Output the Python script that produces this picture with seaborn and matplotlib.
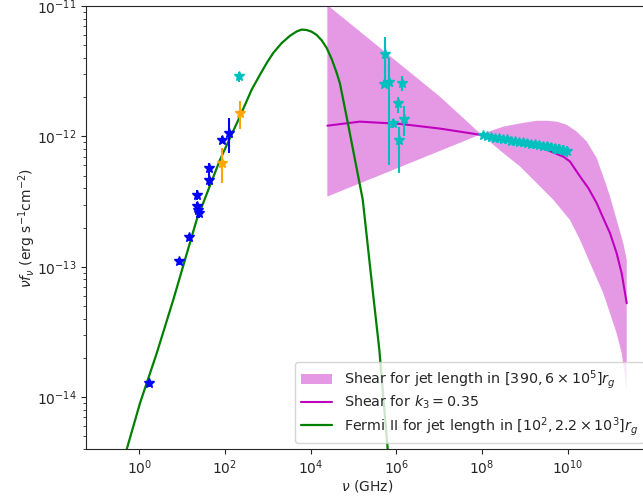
import numpy as np
import pandas as pd
import seaborn as sns
import matplotlib
matplotlib.use("Agg")
import matplotlib.pyplot as plt
import matplotlib.ticker as mticker

# --- Observed points (GHz, erg s^-1 cm^-2) ---
blue_x = [1.71, 8.4, 14.7, 21.8, 22.0, 23.8, 24.5, 43.0, 43.0, 84.0, 126.0]
blue_y = [1.28e-14, 1.10e-13, 1.69e-13, 3.56e-13, 2.94e-13, 2.74e-13, 2.58e-13,
          5.71e-13, 4.65e-13, 9.44e-13, 1.07e-12]
blue_lo = [0.08e-14, 0.06e-13, 0.1e-13, 0.3e-13, 0.2e-13, 0.2e-13, 0.2e-13,
           0.6e-13, 0.5e-13, 0.6e-13, 3.25e-13]
blue_hi = [0.08e-14, 0.06e-13, 0.1e-13, 0.3e-13, 0.2e-13, 0.2e-13, 0.2e-13,
           0.6e-13, 0.5e-13, 0.6e-13, 3.1e-13]

orange_x = [85.0, 224.0]
orange_y = [6.3e-13, 1.51e-12]
orange_lo = [1.92e-13, 0.37e-12]
orange_hi = [1.85e-13, 0.35e-12]

mm_x = [216.0]
mm_y = [2.89e-12]
mm_err = [0.25e-12]

ir_x = [5.4e5, 5.0e5, 6.6e5, 1.33e6, 1.11e6, 1.53e6, 1.17e6, 8.5e5]
ir_y = [4.3e-12, 2.55e-12, 2.6e-12, 2.57e-12, 1.82e-12, 1.36e-12, 9.4e-13, 1.26e-12]
ir_lo = [1.6e-12, 0.15e-12, 2.0e-12, 0.35e-12, 0.3e-12, 0.36e-12, 4.2e-13, 0.1e-12]
ir_hi = [1.5e-12, 0.15e-12, 1.4e-12, 0.35e-12, 0.2e-12, 0.34e-12, 2.5e-13, 0.1e-12]

fermi_x = [1.07e8, 1.32e8, 1.62e8, 2.04e8, 2.51e8, 3.09e8, 3.89e8, 4.79e8, 5.89e8,
           7.24e8, 9.12e8, 1.12e9, 1.38e9, 1.70e9, 2.14e9, 2.63e9, 3.24e9, 4.07e9,
           5.01e9, 6.17e9, 7.59e9, 9.33e9]
fermi_y = [1.02e-12, 1.01e-12, 0.99e-12, 0.98e-12, 0.97e-12, 0.96e-12, 0.95e-12,
           0.93e-12, 0.93e-12, 0.91e-12, 0.90e-12, 0.89e-12, 0.88e-12, 0.87e-12,
           0.86e-12, 0.85e-12, 0.84e-12, 0.83e-12, 0.81e-12, 0.80e-12, 0.79e-12,
           0.77e-12]
fermi_err = [0.05e-12, 0.05e-12, 0.05e-12, 0.05e-12, 0.05e-12, 0.05e-12, 0.05e-12,
             0.05e-12, 0.05e-12, 0.05e-12, 0.05e-12, 0.05e-12, 0.05e-12, 0.05e-12,
             0.06e-12, 0.06e-12, 0.06e-12, 0.06e-12, 0.07e-12, 0.07e-12, 0.07e-12,
             0.08e-12]

# --- Model curves ---
fermi2_x = [0.40, 0.50, 1.04, 2.55, 6.2, 21.8, 76.4, 224.0, 420.0, 656.0, 940.0,
            1340.0, 2100.0, 3290.0, 4710.0, 6170.0, 8070.0, 1.05e4, 1.38e4, 1.81e4,
            2.36e4, 3.09e4, 4.05e4, 4.83e4, 7.5e4, 1.64e5, 2.55e5, 4.0e5, 6.27e5, 7.2e5]
fermi2_y = [3.0e-15, 3.9e-15, 9.0e-15, 2.17e-14, 5.57e-14, 2.29e-13, 6.62e-13,
            1.43e-12, 2.29e-12, 2.98e-12, 3.66e-12, 4.38e-12, 5.21e-12, 5.93e-12,
            6.40e-12, 6.61e-12, 6.56e-12, 6.37e-12, 6.01e-12, 5.46e-12, 4.78e-12,
            3.93e-12, 3.07e-12, 2.54e-12, 1.23e-12, 3.27e-13, 8.65e-14, 2.3e-14,
            3.98e-15, 2.2e-15]

shear_x = [2.45e4, 1.4e5, 1.2e6, 1.04e7, 5.2e7, 7.7e8, 3.22e9, 7.9e9, 1.12e10,
           1.93e10, 3.01e10, 4.72e10, 6.73e10, 9.66e10, 1.38e11, 1.81e11, 2.37e11]
shear_y = [1.21e-12, 1.30e-12, 1.25e-12, 1.15e-12, 1.06e-12, 9.2e-13, 7.9e-13,
           7.0e-13, 6.43e-13, 4.93e-13, 4.02e-13, 3.08e-13, 2.36e-13, 1.81e-13,
           1.27e-13, 8.9e-14, 5.25e-14]

band_up_x = [2.45e4, 1.04e7, 9.4e7, 1.82e8, 3.13e8, 7.66e8, 1.88e9, 3.22e9, 5.51e9,
             9.42e9, 1.61e10, 2.76e10, 4.72e10, 6.73e10, 9.66e10, 1.38e11, 1.97e11,
             2.37e11]
band_up_y = [1.02e-11, 2.02e-12, 1.04e-12, 1.12e-12, 1.19e-12, 1.26e-12, 1.32e-12,
             1.32e-12, 1.30e-12, 1.23e-12, 1.09e-12, 9.16e-13, 6.83e-13, 4.93e-13,
             3.47e-13, 2.29e-13, 1.52e-13, 1.13e-13]
band_lo_x = [2.45e4, 1.04e7, 9.4e7, 3.13e8, 7.66e8, 1.88e9, 4.58e9, 1.12e10, 1.93e10,
             3.30e10, 6.73e10, 9.66e10, 1.38e11, 1.81e11, 2.16e11, 2.37e11]
band_lo_y = [3.46e-13, 7.75e-13, 1.04e-12, 7.45e-13, 5.89e-13, 4.39e-13, 3.27e-13,
             2.29e-13, 1.61e-13, 1.07e-13, 6.27e-14, 4.4e-14, 3.09e-14, 2.17e-14,
             1.44e-14, 1.12e-14]

xtick_vals = [1e0, 1e2, 1e4, 1e6, 1e8, 1e10]

sns.set_style("ticks")
plt.rcParams['font.family'] = ['DejaVu Sans']
plt.rcParams['mathtext.fontset'] = 'dejavusans'

fig = plt.figure(figsize=(6.43, 4.97), dpi=100)
ax = fig.add_axes([0.1337, 0.0966, 0.876, 0.891])
ax.set_xscale('log')
ax.set_yscale('log')

# band outline: upper edge forward, lower edge back
poly_x = band_up_x + band_lo_x[::-1]
poly_y = band_up_y + band_lo_y[::-1]
band = ax.fill(poly_x, poly_y, color='m', alpha=0.4, lw=0,
               label=r'Shear for jet length in $[390, 6\times10^5]r_g$')[0]

df_shear = pd.DataFrame({'nu': shear_x, 'flux': shear_y})
df_f2 = pd.DataFrame({'nu': fermi2_x, 'flux': fermi2_y})
sns.lineplot(data=df_shear, x='nu', y='flux', ax=ax, color='m', lw=1.5,
             label=r'Shear for $k_3=0.35$')
sns.lineplot(data=df_f2, x='nu', y='flux', ax=ax, color='g', lw=1.6,
             label=r'Fermi II for jet length in $[10^2, 2.2\times10^3]r_g$')

ekw = dict(fmt='*', ms=7, elinewidth=1.5, capsize=0)
ax.errorbar(blue_x, blue_y, yerr=[blue_lo, blue_hi], color='b', **ekw)
ax.errorbar(orange_x, orange_y, yerr=[orange_lo, orange_hi], color='orange', **ekw)
ax.errorbar(mm_x, mm_y, yerr=mm_err, color='c', **ekw)
ax.errorbar(ir_x, ir_y, yerr=[ir_lo, ir_hi], color='c', **ekw)
ax.errorbar(fermi_x, fermi_y, yerr=fermi_err, color='c', **ekw)

ax.set_xlim(0.057, 10 ** 11.9)
ax.set_ylim(4e-15, 1e-11)
ax.xaxis.set_major_locator(mticker.FixedLocator(xtick_vals))
ax.xaxis.set_minor_locator(mticker.NullLocator())

ax.set_xlabel(r'$\nu$ (GHz)', fontsize=10, labelpad=0.5)
ax.set_ylabel(r'$\nu f_\nu$ (erg s$^{-1}$cm$^{-2}$)', fontsize=10, labelpad=-1)
ax.tick_params(labelsize=10)

ax.legend(handles=[band] + ax.lines[:2],
          loc='lower right', fontsize=10.3, labelspacing=0.22,
          borderaxespad=0.4, handlelength=2.2)

fig.savefig('out.png', dpi=100)
